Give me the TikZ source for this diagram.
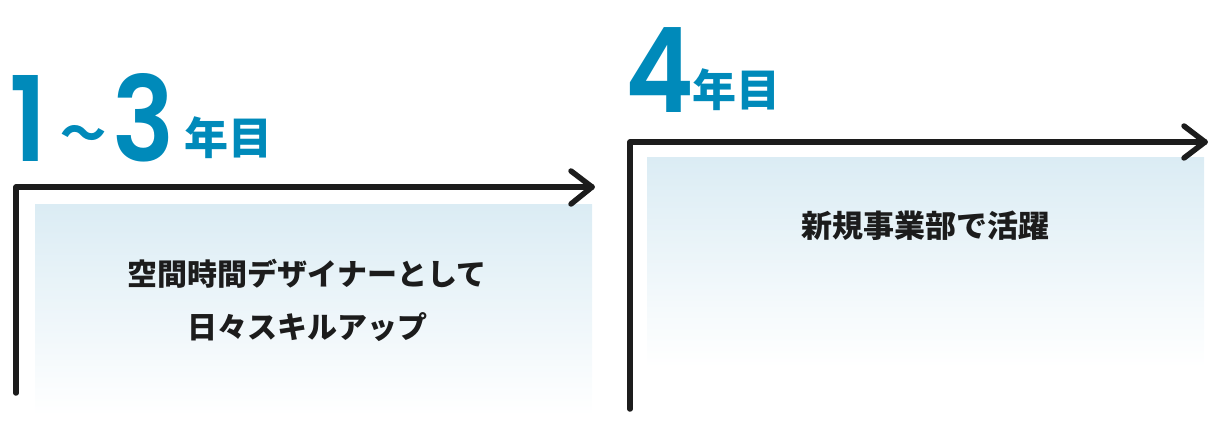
\documentclass[tikz,border=0pt]{standalone}
\usepackage{fontspec}
\setmainfont{Noto Sans CJK JP}
\newfontfamily\numfont{Poppins SemiBold}

\definecolor{headblue}{RGB}{0,138,186}
\definecolor{inkdark}{RGB}{28,28,28}
\definecolor{panelblue}{RGB}{219,236,244}

\tikzset{
  bignum/.style={text=headblue,inner sep=0,anchor=base west,xscale=0.88,font=\numfont\fontsize{118}{118}\selectfont},
  unit/.style={text=headblue,inner sep=0,font=\bfseries\fontsize{44}{44}\selectfont},
  stepline/.style={line width=5.5pt,draw=inkdark,line cap=round,line join=round},
  panel/.style={top color=panelblue,bottom color=white,draw=none},
  note/.style={text=inkdark,align=center,inner sep=0}
}

\begin{document}
\begin{tikzpicture}[x=1pt,y=-1pt]
\useasboundingbox (0,0) rectangle (1208,422);

\coordinate (L1) at (16,393);
\coordinate (C1) at (16,187);
\coordinate (E1) at (592,187);
\coordinate (H1a) at (571,171);
\coordinate (H1b) at (571,204);

\coordinate (L2) at (630,409);
\coordinate (C2) at (630,142);
\coordinate (E2) at (1205,142);
\coordinate (H2a) at (1184,126);
\coordinate (H2b) at (1184,158);

% panels
\shade[panel] (35,205) rectangle (592,415);
\shade[panel] (647,158) rectangle (1204,367);

% steps
\draw[stepline] (L1) -- (C1) -- (E1);
\draw[stepline] (H1a) -- (E1) -- (H1b);
\draw[stepline] (L2) -- (C2) -- (E2);
\draw[stepline] (H2a) -- (E2) -- (H2b);

% headings
\node[bignum] (one) at (9,162) {1};
\node[unit,font=\bfseries\fontsize{46}{46}\selectfont] (wave) at (83,138) {〜};
\node[bignum] (three) at (112,162) {3};
\node[unit] (year1) at (228,138) {年目};

\node[bignum] (four) at (625,113) {4};
\node[unit] (year2) at (736,90) {年目};

% texts
\node[note,font=\bfseries\fontsize{30}{53}\selectfont] (body1) at (307,300)
  {空間時間デザイナーとして\\日々スキルアップ};
\node[note,font=\bfseries\fontsize{31}{31}\selectfont] (body2) at (925,226)
  {新規事業部で活躍};
\end{tikzpicture}
\end{document}
